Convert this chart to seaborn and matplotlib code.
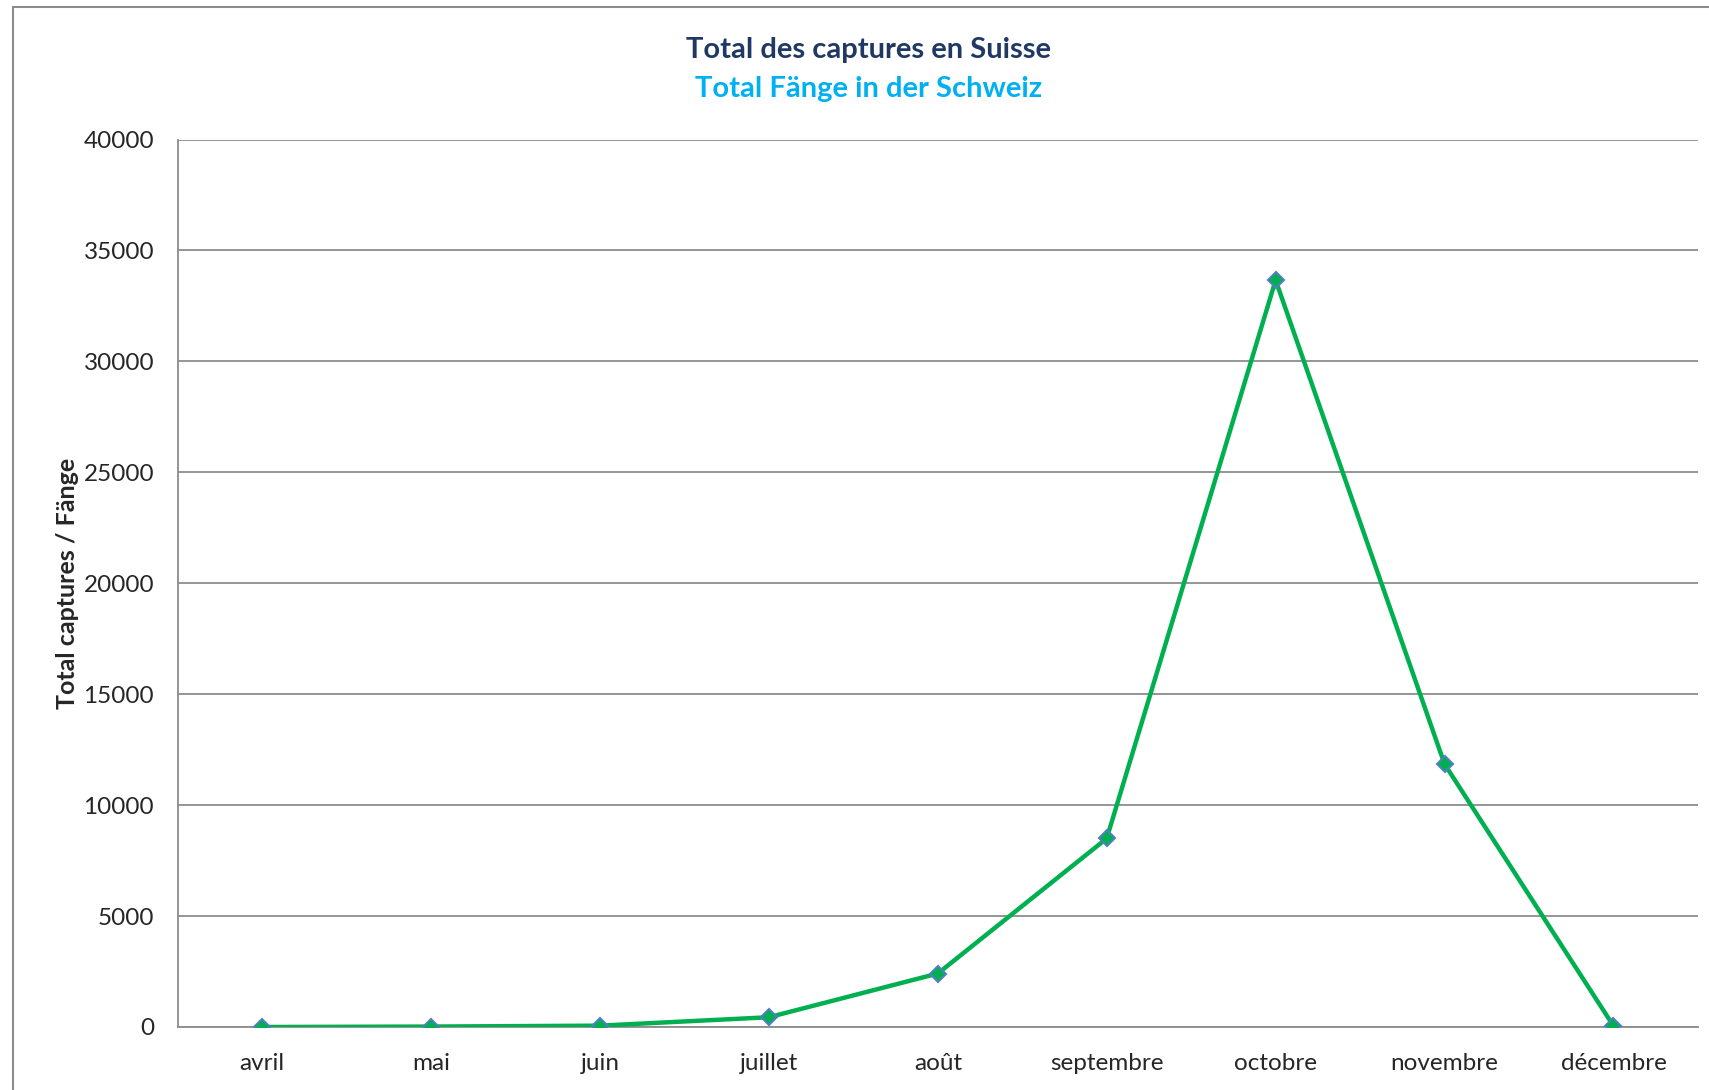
import numpy as np, pandas as pd
import matplotlib; matplotlib.use("Agg"); import matplotlib.pyplot as plt
import seaborn as sns
from matplotlib.patches import Rectangle
from matplotlib.ticker import FixedLocator

months = ["avril", "mai", "juin", "juillet", "août", "septembre",
          "octobre", "novembre", "décembre"]
captures = [0, 20, 60, 440, 2410, 8500, 33660, 11850, 50]
yticks = [0, 5000, 10000, 15000, 20000, 25000, 30000, 35000, 40000]

sns.set_style("white")
plt.rcParams["font.family"] = ["Lato", "DejaVu Sans"]

df = pd.DataFrame({"mois": months, "captures": captures})

fig = plt.figure(figsize=(17.09, 10.90), dpi=100)
ax = fig.add_axes([0.104, 0.0578, 0.8895, 0.8142])

# outer chart border (only top/left visible in crop)
fig.patches.append(Rectangle((13/1709, -0.1), 1.2, 1 - 7/1090 + 0.1,
                             transform=fig.transFigure, fill=False,
                             edgecolor="#8c8c8c", lw=1.5, zorder=0))

sns.lineplot(data=df, x="mois", y="captures", ax=ax, sort=False,
             color="#00b050", lw=3.2, marker="D", markersize=8,
             markerfacecolor="#00b050", markeredgecolor="#4f81bd",
             markeredgewidth=1.5, zorder=3)

ax.set_xlim(-0.5, len(months) - 0.5)
ax.set_ylim(0, 40000)
ax.set_yticks(yticks)
ax.set_yticklabels([str(v) for v in yticks], fontsize=17.5)
ax.yaxis.grid(True, color="#8c8c8c", lw=1.3)
ax.set_axisbelow(True)

ax.set_xticks(range(len(months)))
ax.set_xticklabels(months, fontsize=17.5)
ax.xaxis.set_minor_locator(FixedLocator(np.arange(-0.5, len(months), 1.0)))
ax.tick_params(axis="x", which="major", length=0, pad=19)
ax.tick_params(axis="x", which="minor", length=7, width=1.3, color="#8c8c8c", direction="out")
ax.tick_params(axis="y", length=7, width=1.3, color="#8c8c8c", direction="out", pad=10)

for s in ["top", "right"]:
    ax.spines[s].set_visible(False)
for s in ["left", "bottom"]:
    ax.spines[s].set_color("#8c8c8c")
    ax.spines[s].set_linewidth(1.3)

ax.set_xlabel("")
ax.set_ylabel("Total captures / Fänge", fontsize=18, fontweight="bold", labelpad=3)

fig.text(0.508, 1 - 50/1090, "Total des captures en Suisse", ha="center", va="center",
         fontsize=21, fontweight="bold", color="#1f3864")
fig.text(0.508, 1 - 89/1090, "Total Fänge in der Schweiz", ha="center", va="center",
         fontsize=21, fontweight="bold", color="#00b0f0")

fig.savefig("out.png", dpi=100)
